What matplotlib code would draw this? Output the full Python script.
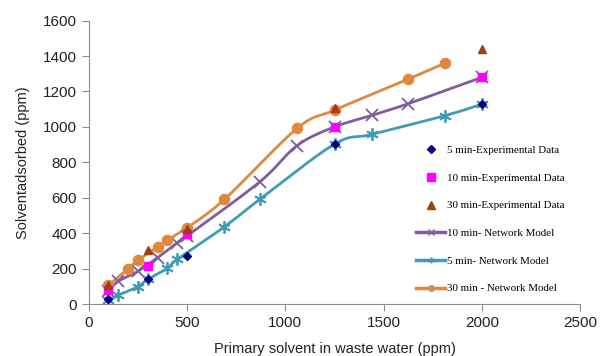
import numpy as np
import matplotlib.pyplot as plt

# experimental data
exp_x = [100, 300, 500, 1250, 2000]
exp_5 = [30, 140, 272, 903, 1128]
exp_10 = [82, 214, 393, 999, 1280]
exp_30 = [107, 304, 423, 1105, 1440]

# network model curves
m10_x = [100, 150, 250, 350, 450, 500, 870, 1060, 1250, 1440, 1625, 2000]
m10_y = [75, 128, 185, 262, 346, 385, 690, 895, 1000, 1065, 1131, 1280]

m5_x = [100, 150, 250, 300, 400, 450, 690, 870, 1250, 1440, 1810, 2000]
m5_y = [25, 50, 98, 140, 201, 252, 436, 591, 903, 958, 1063, 1128]

m30_x = [100, 200, 250, 350, 400, 500, 690, 1060, 1250, 1625, 1810]
m30_y = [105, 200, 247, 323, 361, 431, 591, 992, 1095, 1270, 1359]


def smooth(x, y, n=20):
    # catmull-rom through the points, like excel's smoothed line
    x = np.asarray(x, float)
    y = np.asarray(y, float)
    px = np.concatenate([[2 * x[0] - x[1]], x, [2 * x[-1] - x[-2]]])
    py = np.concatenate([[2 * y[0] - y[1]], y, [2 * y[-1] - y[-2]]])
    t = np.linspace(0, 1, n)
    ox, oy = [], []
    for i in range(1, len(px) - 2):
        for p, o in ((px, ox), (py, oy)):
            p0, p1, p2, p3 = p[i - 1], p[i], p[i + 1], p[i + 2]
            o.extend(0.5 * (2 * p1 + (-p0 + p2) * t
                            + (2 * p0 - 5 * p1 + 4 * p2 - p3) * t ** 2
                            + (-p0 + 3 * p1 - 3 * p2 + p3) * t ** 3))
    return ox, oy


c_purple = '#7D5E9E'
c_teal = '#3E9DB3'
c_orange = '#E0883E'

fig = plt.figure(figsize=(6, 3.56), dpi=100)
ax = fig.add_axes([0.148, 0.146, 0.819, 0.796])

for xs, ys, col, mk, ms, lab in [
        (m10_x, m10_y, c_purple, 'x', 8, '10 min- Network Model'),
        (m5_x, m5_y, c_teal, (6, 2, 0), 9, '5 min- Network Model'),
        (m30_x, m30_y, c_orange, 'o', 7, '30 min - Network Model')]:
    sx, sy = smooth(xs, ys)
    ax.plot(sx, sy, color=col, lw=2, zorder=2)
    ax.plot(xs, ys, ls='none', marker=mk, ms=ms, color=col, mew=1.3, zorder=3)
    ax.plot([], [], color=col, lw=2.5, marker=mk, ms=4, mew=1, label=lab)

ax.plot(exp_x, exp_5, ls='none', marker='D', ms=4.5, color='#000080', zorder=4,
        label='5 min-Experimental Data')
ax.plot(exp_x, exp_10, ls='none', marker='s', ms=6, color='#FF00FF', zorder=4,
        label='10 min-Experimental Data')
ax.plot(exp_x, exp_30, ls='none', marker='^', ms=6, color='#A0410D', zorder=4,
        label='30 min-Experimental Data')

ax.set_xlim(0, 2500)
ax.set_ylim(0, 1600)
ax.set_xticks(range(0, 2501, 500))
ax.set_yticks(range(0, 1601, 200))

for s in ['top', 'right']:
    ax.spines[s].set_visible(False)
for s in ['left', 'bottom']:
    ax.spines[s].set_color('#8c8c8c')
ax.tick_params(direction='out', length=5, color='#8c8c8c', labelsize=11,
               labelcolor='#222222')
for lab in ax.get_xticklabels() + ax.get_yticklabels():
    lab.set_family('Liberation Sans')

ax.set_xlabel('Primary solvent in waste water (ppm)', family='Liberation Sans',
              fontsize=10.5, color='#222222', labelpad=9)
ax.set_ylabel('Solventadsorbed (ppm)', family='Liberation Sans',
              fontsize=10.5, color='#222222', labelpad=9)

h, l = ax.get_legend_handles_labels()
order = [3, 4, 5, 0, 1, 2]
ax.legend([h[i] for i in order], [l[i] for i in order], loc='upper left',
          bbox_to_anchor=(0.693, 0.5916), bbox_transform=fig.transFigure,
          frameon=False, labelspacing=1.64, borderpad=0, borderaxespad=0,
          handlelength=2.7, handletextpad=0.1,
          prop={'family': 'Liberation Serif', 'size': 7.9})

fig.savefig('out.png', dpi=100)
